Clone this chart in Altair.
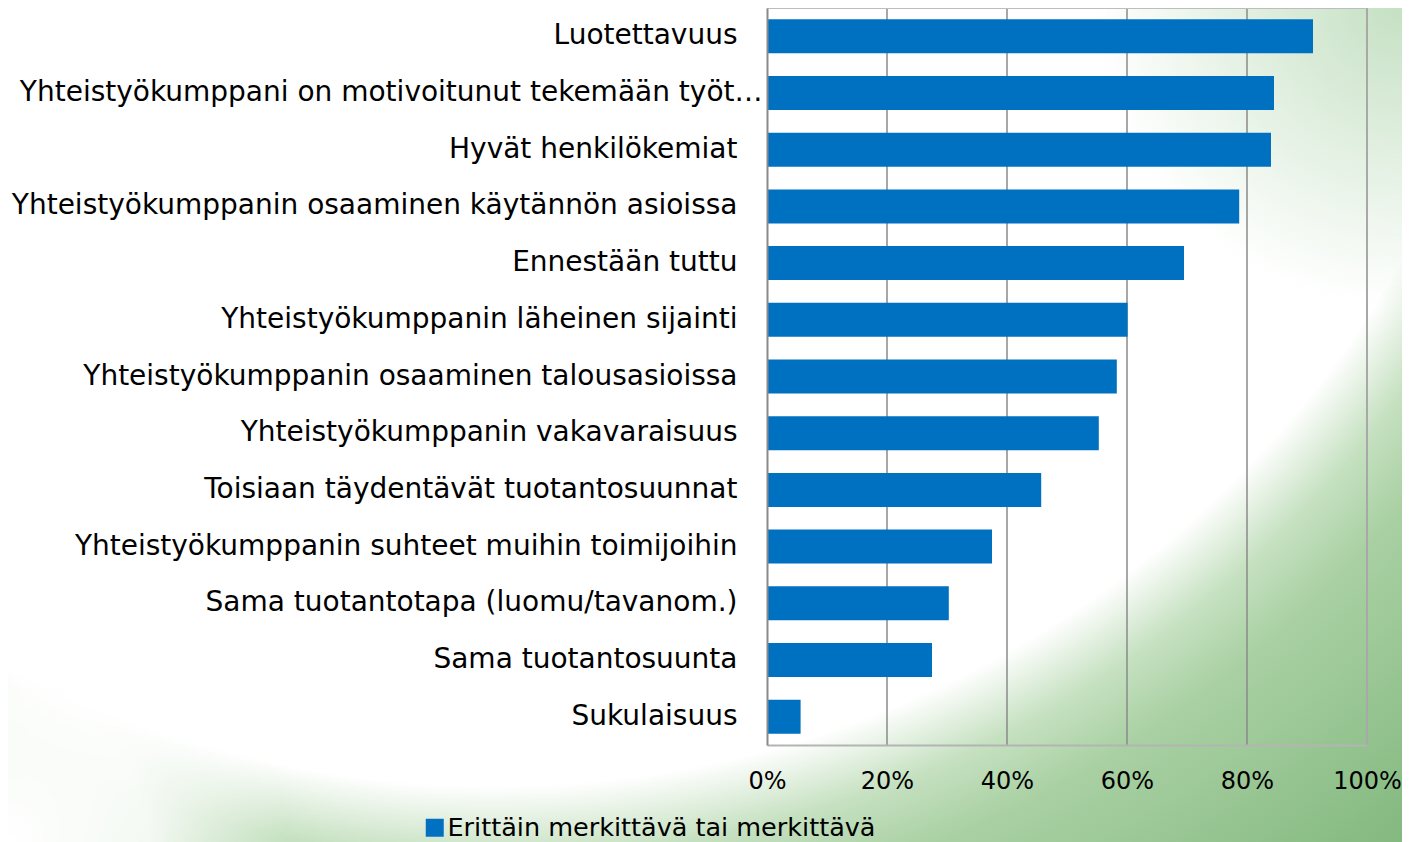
import altair as alt
import pandas as pd

categories = [
    "Luotettavuus",
    "Yhteistyökumppani on motivoitunut tekemään työt…",
    "Hyvät henkilökemiat",
    "Yhteistyökumppanin osaaminen käytännön asioissa",
    "Ennestään tuttu",
    "Yhteistyökumppanin läheinen sijainti",
    "Yhteistyökumppanin osaaminen talousasioissa",
    "Yhteistyökumppanin vakavaraisuus",
    "Toisiaan täydentävät tuotantosuunnat",
    "Yhteistyökumppanin suhteet muihin toimijoihin",
    "Sama tuotantotapa (luomu/tavanom.)",
    "Sama tuotantosuunta",
    "Sukulaisuus",
]
values = [91.0, 84.5, 84.0, 78.7, 69.5, 60.1, 58.3, 55.3, 45.7, 37.5, 30.3, 27.5, 5.6]
series_name = "Erittäin merkittävä tai merkittävä"
tick_values = [0, 20, 40, 60, 80, 100]
grid_values = [20, 40, 60, 80]

FONT = "DejaVu Sans"
BLUE = "#0070C0"
LONG = categories[1]

df = pd.DataFrame({"cat": categories, "val": values, "series": [series_name] * len(categories)})
grid_df = pd.DataFrame({"v": grid_values})
edge_df = pd.DataFrame({"v": [100]})
one = pd.DataFrame({"a": [0]})

xscale = alt.Scale(domain=[0, 100], nice=False, zero=True)
xaxis = alt.Axis(
    values=tick_values,
    labelExpr="datum.value + '%'",
    title=None,
    grid=False,
    ticks=False,
    domainColor="#b4b4b4",
    domainWidth=2,
    labelFont=FONT,
    labelFontSize=24,
    labelColor="#000000",
    labelPadding=36,
    labelBaseline="middle",
    labelFlush=False,
    zindex=1,
)

# background decoration (white -> green swoosh)
def bg_layer(fill):
    return alt.Chart(one).mark_rect(fill=fill).encode(
        x=alt.value(-759), x2=alt.value(635), y=alt.value(0), y2=alt.value(834)
    )

bg_main = bg_layer({
    "gradient": "radial",
    "x1": 0.349, "y1": 0.009, "r1": 0,
    "x2": 0.349, "y2": 0.009, "r2": 1.02,
    "stops": [
        {"offset": 0, "color": "#ffffff"},
        {"offset": 0.735, "color": "#ffffff"},
        {"offset": 0.785, "color": "#c6e1c1"},
        {"offset": 0.835, "color": "#a9d0a3"},
        {"offset": 1, "color": "#84b980"},
    ],
})
bg_topright = bg_layer({
    "gradient": "radial",
    "x1": 1.0, "y1": 0.195, "r1": 0,
    "x2": 1.0, "y2": 0.195, "r2": 0.22,
    "stops": [
        {"offset": 0, "color": "rgba(196,224,194,1)"},
        {"offset": 1, "color": "rgba(196,224,194,0)"},
    ],
})
bg_bottomleft = bg_layer({
    "gradient": "radial",
    "x1": 0.0, "y1": 0.799, "r1": 0,
    "x2": 0.0, "y2": 0.799, "r2": 0.2,
    "stops": [
        {"offset": 0, "color": "rgba(255,255,255,1)"},
        {"offset": 0.5, "color": "rgba(255,255,255,0.85)"},
        {"offset": 1, "color": "rgba(255,255,255,0)"},
    ],
})

grid = alt.Chart(grid_df).mark_rule(color="#8a8a8a", strokeWidth=1.5).encode(
    x=alt.X("v:Q", scale=xscale, axis=xaxis)
)
right_edge = alt.Chart(edge_df).mark_rule(color="#a8a8a8", strokeWidth=2).encode(
    x=alt.X("v:Q", scale=xscale, axis=xaxis)
)
top_edge = alt.Chart(one).mark_rule(color="#bdbdbd", strokeWidth=2).encode(
    x=alt.value(0), x2=alt.value(600), y=alt.value(0)
)

bars = alt.Chart(df).mark_bar(color=BLUE).encode(
    x=alt.X("val:Q", scale=xscale, axis=xaxis),
    y=alt.Y(
        "cat:N",
        sort=categories,
        scale=alt.Scale(paddingInner=0.4, paddingOuter=0.2),
        axis=alt.Axis(
            title=None,
            grid=False,
            ticks=False,
            domainColor="#8a8a8a",
            domainWidth=2,
            labelFont=FONT,
            labelFontSize=28,
            labelColor="#000000",
            labelPadding={"condition": {"test": f"datum.value === '{LONG}'", "value": 5}, "value": 30},
            labelLimit=0,
            zindex=1,
        ),
    ),
    color=alt.Color(
        "series:N",
        scale=alt.Scale(range=[BLUE]),
        legend=alt.Legend(
            orient="none",
            legendX=-345,
            legendY=807,
            title=None,
            symbolType="square",
            symbolSize=324,
            symbolStrokeWidth=0,
            labelFont=FONT,
            labelFontSize=25.5,
            labelColor="#000000",
            labelOffset=0,
            labelLimit=0,
            padding=0,
        ),
    ),
)

chart = alt.layer(bg_main, bg_topright, bg_bottomleft, grid, right_edge, top_edge, bars).properties(
    width=600,
    height=737,
    autosize=alt.AutoSizeParams(type="none"),
    padding={"left": 759, "top": 0, "right": 35, "bottom": 97},
).configure_view(stroke=None)

chart.save("out.html", embed_options={"renderer": "svg", "actions": False})
